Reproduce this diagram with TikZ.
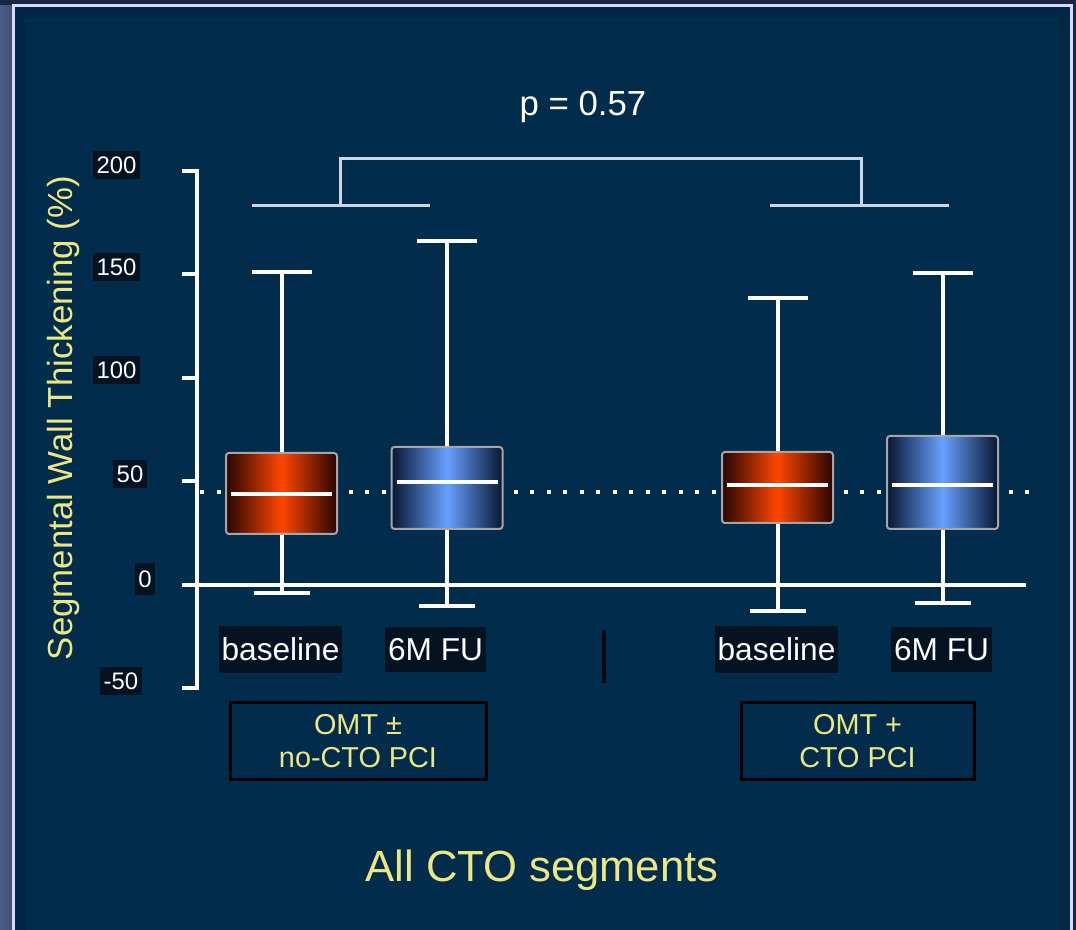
\documentclass[tikz,border=0pt]{standalone}
\usepackage{fontspec}
\setmainfont{Liberation Sans}
\usepackage{tikz}
\usetikzlibrary{positioning}

\definecolor{slidebg}{RGB}{2,44,76}
\definecolor{slideedge}{RGB}{2,39,68}
\definecolor{outerbg}{RGB}{26,36,68}
\definecolor{outerleft}{RGB}{75,91,135}
\definecolor{labyellow}{RGB}{238,230,130}
\definecolor{tagbg}{RGB}{4,18,34}
\definecolor{brkgray}{RGB}{205,215,228}
\definecolor{redhot}{RGB}{255,70,0}
\definecolor{reddark}{RGB}{40,4,0}
\definecolor{bluehot}{RGB}{105,160,255}
\definecolor{bluedark}{RGB}{8,22,50}

\begin{document}
\begin{tikzpicture}[x=0.1mm, y=-0.1mm, node distance=15.5mm,
    ticklab/.style={fill=tagbg, text=white, inner xsep=0.35mm, inner ysep=0.6mm, font=\fontsize{6.8}{7}\selectfont},
    catlab/.style={fill=tagbg, text=white, inner xsep=0.3mm, minimum height=3.9mm, font=\fontsize{9}{10}\selectfont},
    grplab/.style={draw=black, line width=0.3mm, text=labyellow, align=center, minimum width=25.6mm, minimum height=7mm, font=\fontsize{8.2}{9.2}\selectfont},
    obox/.style={draw=gray!70, line width=0.2mm, rounded corners=0.3mm, minimum width=11.1mm, left color=reddark, right color=reddark, middle color=redhot},
    bbox/.style={draw=gray!70, line width=0.2mm, rounded corners=0.3mm, minimum width=11.1mm, left color=bluedark, right color=bluedark, middle color=bluehot},
    whisk/.style={white, line width=0.4mm},
    med/.style={white, line width=0.4mm, shorten <=0.6mm, shorten >=0.6mm},
    axisline/.style={white, line width=0.4mm},
    brk/.style={brkgray, line width=0.3mm},
    refline/.style={white, line width=0.4mm, dash pattern=on 0.4mm off 1.25mm}]

    \useasboundingbox (0,0) rectangle (1076,930);
    \clip (0,0) rectangle (1076,930);

    % slide background and frame
    \fill[outerbg] (0,0) rectangle (1076,930);
    \fill[left color=outerleft, right color=outerleft!80!outerbg] (0,6) rectangle (12,930);
    \fill[slidebg] (13,6) rectangle (1071.5,950);
    \draw[slideedge, line width=1mm] (20,13) rectangle (1064.5,960);
    \draw[white!85!blue, line width=0.3mm] (13,6) rectangle (1071.5,960);

    % y axis
    \node[rotate=90, text=labyellow, font=\fontsize{9.9}{12}\selectfont] (ylab) at (64,418) {Segmental Wall Thickening (\%)};
    \draw[axisline] (182,171) -- (197,171) -- (197,688) -- (182,688);
    \draw[axisline] (182,274.4) -- (197,274.4) (182,377.8) -- (197,377.8) (182,481.2) -- (197,481.2);
    \node[ticklab] (t200) at (116.5,165) {200};
    \node[ticklab] (t150) at (116.5,267) {150};
    \node[ticklab] (t100) at (116.5,370) {100};
    \node[ticklab] (t50) at (130,474) {50};
    \node[ticklab, minimum height=3.2mm] (t0) at (145,579) {0};
    \node[ticklab] (tm50) at (121,681) {-50};

    % zero line and reference level
    \draw[axisline] (182,584.6) -- (1026,584.6);
    \draw[refline] (200,492) -- (1030,492);

    % p value bracket
    \node[text=white, font=\fontsize{9.9}{11}\selectfont, anchor=base] (pval) at (583,116) {p = 0.57};
    \coordinate (g1) at (340,205.5);
    \coordinate (g2) at (861,205.5);
    \draw[brk] (252,205.5) -- (430,205.5);
    \draw[brk] (770,205.5) -- (949,205.5);
    \draw[brk] (g1) -- ++(0,-47) -| (g2);

    % boxes
    \node[obox, minimum height=8.1mm] (ob1) at (281.5,493.5) {};
    \node[bbox, minimum height=8.2mm] (bb1) at (447,488) {};
    \node[obox, minimum height=7.1mm] (ob2) at (777.5,487.5) {};
    \node[bbox, minimum height=9.3mm] (bb2) at (942.5,482.5) {};

    \coordinate (ob1hi) at (281.5,272);  \coordinate (ob1lo) at (281.5,593);
    \coordinate (bb1hi) at (447,241);    \coordinate (bb1lo) at (447,606);
    \coordinate (ob2hi) at (777.5,298);  \coordinate (ob2lo) at (777.5,611);
    \coordinate (bb2hi) at (942.5,273);  \coordinate (bb2lo) at (942.5,603);

    \draw[whisk] (ob1.north) -- (ob1hi);
    \draw[whisk] (ob1.south) -- (ob1lo);
    \draw[whisk] (bb1.north) -- (bb1hi);
    \draw[whisk] (bb1.south) -- (bb1lo);
    \draw[whisk] (ob2.north) -- (ob2hi);
    \draw[whisk] (ob2.south) -- (ob2lo);
    \draw[whisk] (bb2.north) -- (bb2hi);
    \draw[whisk] (bb2.south) -- (bb2lo);

    \draw[whisk] ([xshift=-3mm]ob1hi) -- ([xshift=3mm]ob1hi);
    \draw[whisk] ([xshift=-2.8mm]ob1lo) -- ([xshift=2.8mm]ob1lo);
    \draw[whisk] ([xshift=-3mm]bb1hi) -- ([xshift=3mm]bb1hi);
    \draw[whisk] ([xshift=-2.8mm]bb1lo) -- ([xshift=2.8mm]bb1lo);
    \draw[whisk] ([xshift=-3mm]ob2hi) -- ([xshift=3mm]ob2hi);
    \draw[whisk] ([xshift=-2.8mm]ob2lo) -- ([xshift=2.8mm]ob2lo);
    \draw[whisk] ([xshift=-3mm]bb2hi) -- ([xshift=3mm]bb2hi);
    \draw[whisk] ([xshift=-2.8mm]bb2lo) -- ([xshift=2.8mm]bb2lo);

    % medians
    \coordinate (ob1m) at (281.5,494);
    \coordinate (bb1m) at (447,482);
    \coordinate (ob2m) at (777.5,485);
    \coordinate (bb2m) at (942.5,485);
    \draw[med] (ob1m -| ob1.west) -- (ob1m -| ob1.east);
    \draw[med] (bb1m -| bb1.west) -- (bb1m -| bb1.east);
    \draw[med] (ob2m -| ob2.west) -- (ob2m -| ob2.east);
    \draw[med] (bb2m -| bb2.west) -- (bb2m -| bb2.east);

    % category labels
    \node[catlab] (base1) at (280.5,649.5) {baseline};
    \node[catlab, right of=base1] (fu1) {6M FU};
    \node[catlab] (base2) at (776.5,649.5) {baseline};
    \node[catlab, right of=base2, node distance=16.5mm] (fu2) {6M FU};
    \draw[black!80!slidebg, line width=0.4mm] (604,630) -- (604,683);

    \node[grplab] (omt1) at (358,741) {OMT ±\\no-CTO PCI};
    \node[grplab, minimum width=23.3mm] (omt2) at (857.5,741) {OMT +\\CTO PCI};

    \node[text=labyellow, font=\fontsize{12.4}{14}\selectfont, anchor=base] (title) at (542,882) {All CTO segments};
\end{tikzpicture}
\end{document}
